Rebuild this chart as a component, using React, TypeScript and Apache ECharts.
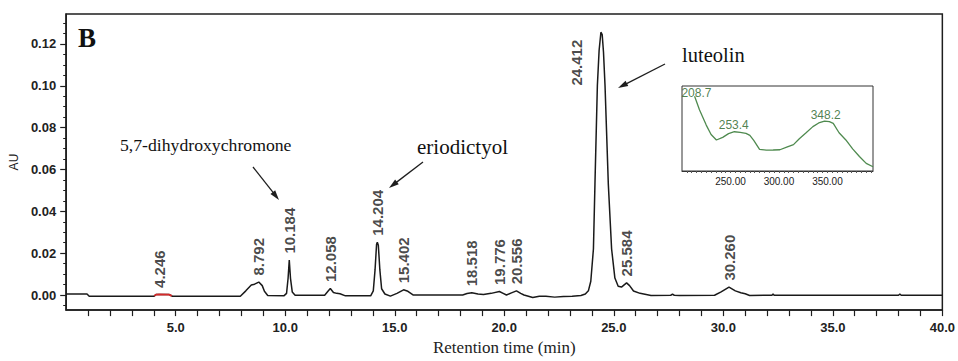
import React, { useEffect, useRef } from "react";
import * as echarts from "echarts";

// Chromatogram (retention time, min) / absorbance (AU)
const rt = [0, 0.95, 1.05, 4.0, 4.1, 4.246, 4.7, 4.85, 7.95, 8.2, 8.45, 8.6, 8.792, 8.95, 9.05, 9.2, 9.95, 10.06, 10.13, 10.184, 10.24, 10.32, 10.45, 11.8, 11.95, 12.058, 12.2, 12.35, 12.5, 12.75, 13.9, 14.02, 14.1, 14.17, 14.204, 14.25, 14.32, 14.4, 14.55, 14.8, 15.1, 15.402, 15.6, 15.85, 18.1, 18.3, 18.518, 18.8, 19.05, 19.4, 19.776, 19.95, 20.1, 20.3, 20.556, 20.75, 20.9, 21.3, 21.6, 21.9, 22.3, 22.7, 23.1, 23.5, 23.7, 23.84, 23.95, 24.07, 24.14, 24.25, 24.33, 24.412, 24.47, 24.53, 24.6, 24.75, 24.9, 25.05, 25.2, 25.35, 25.584, 25.72, 25.9, 26.2, 26.7, 27.6, 27.68, 27.76, 28.0, 29.6, 29.9, 30.26, 30.55, 30.8, 31.0, 31.2, 32.22, 32.27, 32.32, 38.0, 38.06, 38.12, 40];
const au = [0.0005, 0.0005, -0.0006, -0.0006, 0.0002, 0.0003, 0.0002, -0.0006, -0.0006, 0.002, 0.0048, 0.0052, 0.0062, 0.0045, 0.0018, -0.0002, -0.0003, 0.0008, 0.008, 0.0167, 0.008, 0.0015, -0.0001, -0.0001, 0.0018, 0.0031, 0.0012, 0.0008, 0.0006, -0.0004, -0.0004, 0.002, 0.012, 0.0243, 0.0252, 0.0238, 0.012, 0.003, 0.0005, -0.0005, 0.0008, 0.0025, 0.0018, 0.0, 0.0, 0.0007, 0.0011, 0.0005, 0.0003, 0.0008, 0.0017, 0.0008, 0.0, 0.0009, 0.002, 0.0008, 0.0, -0.0012, -0.0006, -0.0006, -0.001, -0.0007, -0.0006, -0.0002, 0.0005, 0.002, 0.0066, 0.022, 0.053, 0.1, 0.117, 0.1256, 0.1245, 0.116, 0.1, 0.053, 0.022, 0.0081, 0.0042, 0.0038, 0.0058, 0.0045, 0.0019, 0.0008, -0.0002, -0.0001, 0.0004, -0.0001, -0.0002, -0.0001, 0.0015, 0.0038, 0.002, 0.0011, 0.0006, -0.0002, -0.0001, 0.0005, -0.0001, -0.0001, 0.0005, -0.0001, -0.0001];

// Integrated segment drawn in red
const redRt = [4.02, 4.1, 4.246, 4.7, 4.82];
const redAu = [-0.0004, 0.0002, 0.0003, 0.0002, -0.0004];

// Labelled peaks
const peakRt = [4.246, 8.792, 10.184, 12.058, 14.204, 15.402, 18.518, 19.776, 20.556, 24.412, 25.584, 30.26];
const peakAu = [0.0003, 0.0062, 0.0167, 0.0031, 0.0252, 0.0025, 0.0011, 0.0017, 0.002, 0.1256, 0.0058, 0.0038];

// Inset UV spectrum (nm / relative absorbance)
const nm = [213, 218, 225, 230, 235.5, 242, 248, 254, 260, 266, 270, 274, 280, 287, 294, 301, 308, 315, 321, 328, 335, 341, 347, 352, 356, 362, 369, 376, 383, 390, 397];
const absorb = [0.88, 0.72, 0.54, 0.43, 0.365, 0.396, 0.44, 0.462, 0.455, 0.443, 0.42, 0.36, 0.255, 0.245, 0.247, 0.25, 0.28, 0.31, 0.38, 0.45, 0.522, 0.565, 0.588, 0.58, 0.56, 0.45, 0.365, 0.26, 0.17, 0.09, 0.05];
const uvPeakNm = [208.7, 253.4, 348.2];
const uvPeakAbs = [0.9, 0.462, 0.588];

// Ticks
const xLabelValues = [5, 10, 15, 20, 25, 30, 35, 40];
const xTickValues = [1, 2, 3, 4, 5, 6, 7, 8, 9, 10, 11, 12, 13, 14, 15, 16, 17, 18, 19, 20, 21, 22, 23, 24, 25, 26, 27, 28, 29, 30, 31, 32, 33, 34, 35, 36, 37, 38, 39, 40];
const yMajorValues = [0, 0.02, 0.04, 0.06, 0.08, 0.1, 0.12];
const yMinorValues = [-0.005, 0.005, 0.01, 0.015, 0.025, 0.03, 0.035, 0.045, 0.05, 0.055, 0.065, 0.07, 0.075, 0.085, 0.09, 0.095, 0.105, 0.11, 0.115, 0.125, 0.13];
const insetLabelValues = [250, 300, 350];
const insetTickValues = [205, 210, 215, 220, 225, 230, 235, 240, 245, 250, 255, 260, 265, 270, 275, 280, 285, 290, 295, 300, 305, 310, 315, 320, 325, 330, 335, 340, 345, 350, 355, 360, 365, 370, 375, 380, 385, 390, 395];

const SANS = "'Liberation Sans', Arial, sans-serif";
const SERIF = "'Liberation Serif', 'Times New Roman', serif";
const INK = "#1e1e1e";

function arrow(x1: number, y1: number, x2: number, y2: number) {
  const dx = x2 - x1, dy = y2 - y1;
  const len = Math.sqrt(dx * dx + dy * dy);
  const ux = dx / len, uy = dy / len;
  const hl = 10, hw = 3;
  const bx = x2 - ux * hl, by = y2 - uy * hl;
  const nx = -uy, ny = ux;
  return [
    { type: "line", shape: { x1, y1, x2: bx + ux * 2, y2: by + uy * 2 }, style: { stroke: INK, lineWidth: 1.3 } },
    { type: "polygon", shape: { points: [[x2, y2], [bx + nx * hw, by + ny * hw], [bx - nx * hw, by - ny * hw]] }, style: { fill: INK } },
  ];
}

export default function App() {
  const ref = useRef<HTMLDivElement>(null);
  useEffect(() => {
    const chart = echarts.init(ref.current!, null, { renderer: "svg" });
    const mainData = rt.map((x, i) => [x, au[i]]);
    const redData = redRt.map((x, i) => [x, redAu[i]]);
    const peakData = peakRt.map((x, i) => {
      const item: any = { value: [x, peakAu[i]] };
      if (x === 24.412) {
        item.label = { position: [-24, 8], align: "right", verticalAlign: "middle" };
      }
      return item;
    });
    const uvData = nm.map((x, i) => [x, absorb[i]]);
    const uvPeakData = uvPeakNm.map((x, i) => {
      const item: any = { value: [x, uvPeakAbs[i]] };
      if (i === 0) item.label = { position: [6.5, -1.5], align: "center", verticalAlign: "middle" };
      return item;
    });

    const option: any = {
      animation: false,
      backgroundColor: "#fff",
      grid: [
        { left: 65, right: 15, top: 14, bottom: 45, show: true, borderColor: INK, borderWidth: 1.5, backgroundColor: "transparent" },
        { left: 682, top: 86, width: 191, height: 85, show: true, borderColor: "#333", borderWidth: 1, backgroundColor: "#fff" },
      ],
      xAxis: [
        {
          type: "value", gridIndex: 0, min: 0, max: 40,
          axisLine: { show: true, onZero: false, lineStyle: { color: INK, width: 1.5 } },
          axisTick: { show: true, customValues: xTickValues, length: 6, lineStyle: { color: INK, width: 1.2 } },
          axisLabel: { customValues: xLabelValues, formatter: (v: number) => v.toFixed(1), margin: 11, fontSize: 13, fontWeight: "bold", color: "#222", fontFamily: SANS },
          splitLine: { show: false },
          name: "Retention time (min)", nameLocation: "middle", nameGap: 28,
          nameTextStyle: { fontFamily: SERIF, fontSize: 17, color: "#222" },
        },
        {
          type: "value", gridIndex: 1, min: 200, max: 397,
          axisLine: { show: true, onZero: false, lineStyle: { color: "#333", width: 1 } },
          axisTick: { show: true, customValues: insetTickValues, length: 2, lineStyle: { color: "#555", width: 1 } },
          axisLabel: { customValues: insetLabelValues, formatter: (v: number) => v.toFixed(2), margin: 5, fontSize: 10, color: "#222", fontFamily: SANS },
          splitLine: { show: false },
        },
      ],
      yAxis: [
        {
          type: "value", gridIndex: 0, min: -0.0072, max: 0.1343,
          axisLine: { show: true, onZero: false, lineStyle: { color: INK, width: 1.5 } },
          axisTick: { show: true, customValues: yMajorValues, length: 6, lineStyle: { color: INK, width: 1.2 } },
          axisLabel: { customValues: yMajorValues, formatter: (v: number) => v.toFixed(2), margin: 10, fontSize: 13, fontWeight: "bold", color: "#222", fontFamily: SANS },
          splitLine: { show: false },
          name: "AU", nameLocation: "middle", nameRotate: 90, nameGap: 42,
          nameTextStyle: { fontFamily: SANS, fontSize: 12, color: "#222" },
        },
        {
          type: "value", gridIndex: 0, min: -0.0072, max: 0.1343, position: "left",
          axisLine: { show: false },
          axisTick: { show: true, customValues: yMinorValues, length: 3, lineStyle: { color: INK, width: 1 } },
          axisLabel: { show: false },
          splitLine: { show: false },
        },
        { type: "value", gridIndex: 1, min: 0, max: 1, show: false },
      ],
      series: [
        {
          type: "line", xAxisIndex: 0, yAxisIndex: 0, data: mainData, showSymbol: false, symbol: "none",
          lineStyle: { color: "#1a1a1a", width: 1.5 }, z: 2,
        },
        {
          type: "line", xAxisIndex: 0, yAxisIndex: 0, data: redData, showSymbol: false, symbol: "none",
          lineStyle: { color: "#d42a2a", width: 1.8 }, z: 3,
        },
        {
          type: "scatter", xAxisIndex: 0, yAxisIndex: 0, data: peakData, symbolSize: 1,
          itemStyle: { color: "transparent" }, z: 4,
          label: {
            show: true, rotate: 90, position: "top", distance: 6, align: "left", verticalAlign: "middle",
            formatter: (p: any) => p.value[0].toFixed(3), fontSize: 15, fontWeight: "bold", color: "#1a1a1a", fontFamily: SANS,
          },
        },
        {
          type: "line", xAxisIndex: 1, yAxisIndex: 2, data: uvData, showSymbol: false, symbol: "none",
          lineStyle: { color: "#4f8a4f", width: 1.3 },
        },
        {
          type: "scatter", xAxisIndex: 1, yAxisIndex: 2, data: uvPeakData, symbolSize: 1,
          itemStyle: { color: "transparent" },
          label: {
            show: true, position: "top", distance: 0,
            formatter: (p: any) => p.value[0].toFixed(1), fontSize: 12, color: "#245f24", fontFamily: SANS,
          },
        },
      ],
      graphic: [
        { type: "text", x: 78, y: 38, style: { text: "B", font: `bold 27px ${SERIF}`, fill: "#111", verticalAlign: "middle" } },
        { type: "text", x: 120, y: 145, style: { text: "5,7-dihydroxychromone", font: `17.7px ${SERIF}`, fill: "#111", verticalAlign: "middle" } },
        { type: "text", x: 417, y: 147, style: { text: "eriodictyol", font: `21px ${SERIF}`, fill: "#111", verticalAlign: "middle" } },
        { type: "text", x: 682, y: 55, style: { text: "luteolin", font: `20.5px ${SERIF}`, fill: "#111", verticalAlign: "middle" } },
        ...arrow(253, 167, 279, 200),
        ...arrow(423, 162, 389, 188),
        ...arrow(665, 64, 618, 88),
      ],
    };
    chart.setOption(option);
    return () => chart.dispose();
  }, []);
  return <div ref={ref} style={{ position: "fixed", left: 0, top: 0, width: 958, height: 361, background: "#fff" }} />;
}
